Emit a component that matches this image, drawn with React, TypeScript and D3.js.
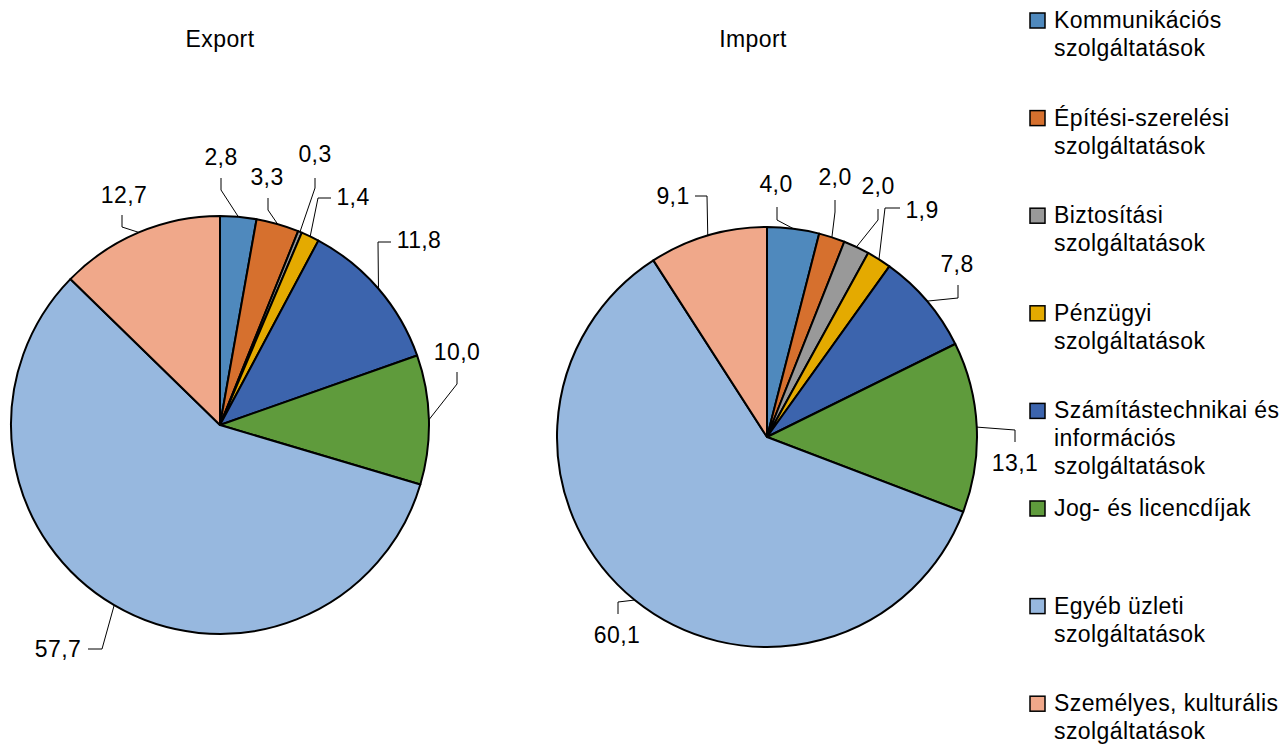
import React from "react";
import * as d3 from "d3";

// ---- data ----
const categoryLines: string[][] = [
  ["Kommunikációs", "szolgáltatások"],
  ["Építési-szerelési", "szolgáltatások"],
  ["Biztosítási", "szolgáltatások"],
  ["Pénzügyi", "szolgáltatások"],
  ["Számítástechnikai és", "információs", "szolgáltatások"],
  ["Jog- és licencdíjak"],
  ["Egyéb üzleti", "szolgáltatások"],
  ["Személyes, kulturális", "szolgáltatások"],
];
const exportValues = [2.8, 3.3, 0.3, 1.4, 11.8, 10.0, 57.7, 12.7];
const importValues = [4.0, 2.0, 2.0, 1.9, 7.8, 13.1, 60.1, 9.1];
const pieTitles = ["Export", "Import"];

// ---- styles / layout ----
const colors = [
  "#4F89BD",
  "#D6702E",
  "#999999",
  "#E4AA00",
  "#3C64AD",
  "#5F9B3C",
  "#97B8DF",
  "#F0A88A",
];
const FONT = "'Liberation Sans', Arial, sans-serif";
const FS = 23;
const LS = 0.4;

type LabelLayout = { t: [number, number]; a: [number, number]; e: [number, number] };
// label text position (center x, baseline y), leader attach and elbow points, relative to pie center
const exportLabelLayout: LabelLayout[] = [
  { t: [1, -260], a: [1, -247], e: [1, -235] },
  { t: [47, -240], a: [48, -227], e: [48, -215] },
  { t: [95, -263], a: [95, -247], e: [95, -237] },
  { t: [133, -220], a: [111, -227], e: [98, -227] },
  { t: [199, -177], a: [171, -183], e: [158, -183] },
  { t: [237, -65], a: [237, -53], e: [237, -41] },
  { t: [-162, 232], a: [-132, 224], e: [-118, 224] },
  { t: [-96, -222], a: [-98, -210], e: [-98, -198] },
];
const importLabelLayout: LabelLayout[] = [
  { t: [9, -245], a: [10, -230], e: [10, -217] },
  { t: [68, -252], a: [68, -237], e: [68, -225] },
  { t: [111, -243], a: [111, -228], e: [111, -217] },
  { t: [155, -219], a: [133, -229], e: [118, -229] },
  { t: [190, -165], a: [191, -152], e: [191, -139] },
  { t: [248, 34], a: [248, 5], e: [248, -7] },
  { t: [-150, 206], a: [-149, 177], e: [-149, 165] },
  { t: [-94, -233], a: [-72, -241], e: [-60, -241] },
];

const pies = [
  { title: pieTitles[0], values: exportValues, cx: 220, cy: 425, r: 209, titleX: 220, layout: exportLabelLayout },
  { title: pieTitles[1], values: importValues, cx: 767, cy: 437, r: 210, titleX: 753, layout: importLabelLayout },
];

const fmt = (v: number) => d3.format(".1f")(v).replace(".", ",");

function Pie({ p }: { p: (typeof pies)[number] }) {
  const pieGen = d3
    .pie<number>()
    .sort(null)
    .value((d) => d)
    .startAngle(0)
    .endAngle(2 * Math.PI);
  const arcs = pieGen(p.values);
  const arcGen = d3.arc<d3.PieArcDatum<number>>().innerRadius(0).outerRadius(p.r);
  const edgeGen = d3.arc<d3.PieArcDatum<number>>().innerRadius(p.r).outerRadius(p.r);
  return (
    <g transform={`translate(${p.cx},${p.cy})`}>
      {arcs.map((a, i) => (
        <path key={i} d={arcGen(a) || ""} fill={colors[i]} stroke="#000" strokeWidth={2} strokeLinejoin="round" />
      ))}
      {arcs.map((a, i) => {
        const [ex, ey] = edgeGen.centroid(a);
        const L = p.layout[i];
        return (
          <g key={"l" + i}>
            <polyline
              points={`${L.a[0]},${L.a[1]} ${L.e[0]},${L.e[1]} ${ex},${ey}`}
              fill="none"
              stroke="#000"
              strokeWidth={1}
            />
            <text
              x={L.t[0]}
              y={L.t[1]}
              textAnchor="middle"
              fontFamily={FONT}
              fontSize={FS}
              letterSpacing={LS}
              fill="#000"
            >
              {fmt(a.data)}
            </text>
          </g>
        );
      })}
    </g>
  );
}

export default function App() {
  const legendX = 1030;
  const legendTop = 28;
  const legendStep = 97.6;
  const lineH = 28;
  return (
    <svg
      width={1281}
      height={744}
      style={{ position: "absolute", left: 0, top: 0, background: "#fff" }}
    >
      <rect x={0} y={0} width={1281} height={744} fill="#fff" />
      {pies.map((p, i) => (
        <text
          key={"t" + i}
          x={p.titleX}
          y={47}
          textAnchor="middle"
          fontFamily={FONT}
          fontSize={FS}
          letterSpacing={LS}
        >
          {p.title}
        </text>
      ))}
      {pies.map((p, i) => (
        <Pie key={i} p={p} />
      ))}
      {categoryLines.map((lines, i) => {
        const base = legendTop + i * legendStep;
        return (
          <g key={"lg" + i}>
            <rect x={legendX} y={base - 15} width={15} height={15} fill={colors[i]} stroke="#000" strokeWidth={1.5} />
            {lines.map((ln, j) => (
              <text
                key={j}
                x={legendX + 24}
                y={base + j * lineH}
                fontFamily={FONT}
                fontSize={FS}
                letterSpacing={LS}
                fill="#000"
              >
                {ln}
              </text>
            ))}
          </g>
        );
      })}
    </svg>
  );
}
